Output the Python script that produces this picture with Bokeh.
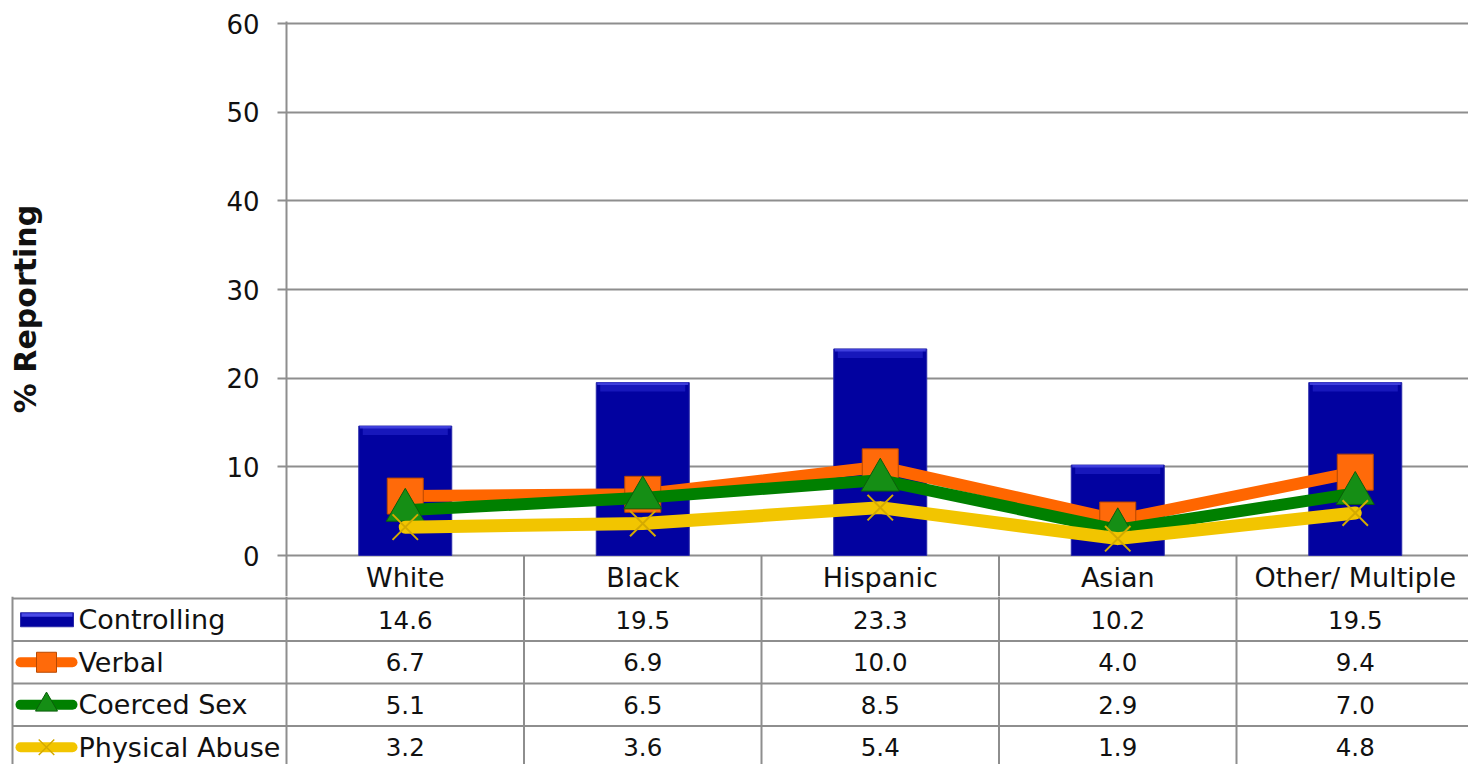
import numpy as np
from bokeh.plotting import figure
from bokeh.models import Range1d, FixedTicker
from bokeh.layouts import column
from bokeh.embed import file_html
from bokeh.resources import INLINE
from bokeh.core.properties import value

# ---------------- data ----------------
categories = ["White", "Black", "Hispanic", "Asian", "Other/ Multiple"]
controlling = [14.6, 19.5, 23.3, 10.2, 19.5]
verbal = [6.7, 6.9, 10.0, 4.0, 9.4]
coerced = [5.1, 6.5, 8.5, 2.9, 7.0]
physical = [3.2, 3.6, 5.4, 1.9, 4.8]
series_names = ["Controlling", "Verbal", "Coerced Sex", "Physical Abuse"]
y_ticks = [0, 10, 20, 30, 40, 50, 60]

# ---------------- layout constants (page pixels) ----------------
COL_W = 237.5          # width of one category column
PLOT_LEFT = 286        # page x of value axis
ZERO_Y = 555           # page y of value 0
PXU = 532.0 / 60.0     # pixels per value unit
ROW_H = 42.5           # table row height
TABLE_TOP = 598        # page y where legend rows begin
SPLIT = 596            # page y where the two figures meet
PAGE_RIGHT = 1468
PAGE_BOTTOM = 764
FRAME_TOP = 21

GRAY = "#8e8e8e"
TXT = "#111111"
FONT = "DejaVu Sans"
WORD_SIZE = "27px"
NUM_SIZE = "24.5px"
TICK_SIZE = "26px"

n = len(categories)
xc = [i + 0.5 for i in range(n)]
bounds = list(range(1, n))

# ---------------- top figure: chart + header row ----------------
y_bottom = -(SPLIT - ZERO_Y) / PXU
y_top = (ZERO_Y - FRAME_TOP) / PXU
x_end = (PAGE_RIGHT - PLOT_LEFT) / COL_W

top = figure(width=PAGE_RIGHT, height=SPLIT,
             x_range=Range1d(0, x_end), y_range=Range1d(y_bottom, y_top),
             x_axis_location=None, output_backend="svg", toolbar_location=None,
             min_border_left=PLOT_LEFT, min_border_right=0,
             min_border_top=FRAME_TOP, min_border_bottom=0)
top.frame_align = False
top.outline_line_color = None
top.xgrid.visible = False

ticker = FixedTicker(ticks=y_ticks)
top.yaxis.ticker = ticker
top.ygrid.ticker = ticker
top.ygrid.grid_line_color = GRAY
top.ygrid.grid_line_width = 2
top.yaxis.axis_line_color = GRAY
top.yaxis.axis_line_width = 2
top.yaxis.major_tick_line_color = GRAY
top.yaxis.major_tick_line_width = 2
top.yaxis.major_tick_in = 0
top.yaxis.major_tick_out = 9
top.yaxis.minor_tick_line_color = None
top.yaxis.major_label_standoff = 18
top.yaxis.major_label_text_font = FONT
top.yaxis.major_label_text_font_size = TICK_SIZE
top.yaxis.major_label_text_color = TXT
top.yaxis.axis_label = "% Reporting"
top.yaxis.axis_label_text_font = FONT
top.yaxis.axis_label_text_font_style = "bold"
top.yaxis.axis_label_text_font_size = "30px"
top.yaxis.axis_label_text_color = TXT
top.yaxis.axis_label_standoff = 180

# bars
bw = 93 / COL_W
top.vbar(x=xc, top=controlling, bottom=0, width=bw,
         fill_color="#0202A0", line_color="#2828a8", line_width=1)
top.vbar(x=xc, top=[c - 1.2 / PXU for c in controlling],
         bottom=[c - 9 / PXU for c in controlling], width=bw - 8 / COL_W,
         fill_color="#2a2ad2", fill_alpha=0.55, line_color=None)
top.vbar(x=xc, top=controlling, bottom=[c - 2.5 / PXU for c in controlling],
         width=bw - 2 / COL_W, fill_color="#4a4ae6", fill_alpha=0.8, line_color=None)

# lines + markers
top.line(xc, verbal, line_width=12, line_color="#FF6600", line_join="round", line_cap="round")
top.scatter(xc, verbal, marker="square", size=36, fill_color="#FF6A0A",
            line_color="#B94800", line_width=1)
top.line(xc, coerced, line_width=12, line_color="#008000", line_join="round", line_cap="round")
top.scatter(xc, coerced, marker="triangle", size=38, fill_color="#158E15",
            line_color="#0B5E0B", line_width=1)
top.line(xc, physical, line_width=13, line_color="#F2C500", line_join="round", line_cap="round")
top.scatter(xc, physical, marker="x", size=36, line_color="#D4AA00", line_width=2)

# header row (category names) with column separators
top.segment(x0=bounds, y0=[0] * len(bounds), x1=bounds, y1=[y_bottom] * len(bounds),
            line_color=GRAY, line_width=2)
top.text(x=xc, y=[-(577 - ZERO_Y) / PXU] * n, text=categories,
         text_align="center", text_baseline="middle",
         text_font=value(FONT), text_font_size=WORD_SIZE, text_color=TXT)

# ---------------- bottom figure: data table ----------------
def px(xp):
    return (xp - PLOT_LEFT) / COL_W

left_border = px(12)
bx_start = px(0)
by_top = (SPLIT - TABLE_TOP) / ROW_H
by_bottom = (PAGE_BOTTOM - TABLE_TOP) / ROW_H

bot = figure(width=PAGE_RIGHT, height=PAGE_BOTTOM - SPLIT,
             x_range=Range1d(bx_start, x_end), y_range=Range1d(by_bottom, by_top),
             x_axis_location=None, y_axis_location=None,
             output_backend="svg", toolbar_location=None, min_border=0)
bot.frame_align = False
bot.outline_line_color = None
bot.xgrid.visible = False
bot.ygrid.visible = False

rows = list(range(len(series_names)))
bot.segment(x0=[left_border] * len(rows), y0=rows, x1=[x_end] * len(rows), y1=rows,
            line_color=GRAY, line_width=2)
vx = [left_border, 0] + bounds
bot.segment(x0=vx, y0=[by_top] * len(vx), x1=vx, y1=[by_bottom] * len(vx),
            line_color=GRAY, line_width=2)

rc = [r + 0.5 for r in rows]
# legend keys
bot.quad(left=px(20), right=px(73), top=rc[0] - 7 / ROW_H, bottom=rc[0] + 7 / ROW_H,
         fill_color="#0202A0", line_color="#2828a8")
bot.quad(left=px(21), right=px(72), top=rc[0] - 6.5 / ROW_H, bottom=rc[0] - 3 / ROW_H,
         fill_color="#4a4ae6", line_color=None)
key_colors = ["#FF6600", "#008000", "#F2C500"]
for r, c in zip(rc[1:], key_colors):
    bot.segment(x0=px(20), y0=r, x1=px(72), y1=r, line_color=c, line_width=10, line_cap="round")
bot.scatter(px(46), rc[1], marker="square", size=20, fill_color="#FF6A0A", line_color="#B94800")
bot.scatter(px(46), rc[2], marker="triangle", size=22, fill_color="#158E15", line_color="#0B5E0B")
bot.scatter(px(46), rc[3], marker="x", size=22, line_color="#D4AA00", line_width=1.5)

bot.text(x=[px(78)] * len(rows), y=rc, text=series_names, text_align="left",
         text_baseline="middle", text_font=value(FONT), text_font_size=WORD_SIZE,
         text_color=TXT)

table = [controlling, verbal, coerced, physical]
tx, ty, tt = [], [], []
for r, vals in zip(rc, table):
    for x, v in zip(xc, vals):
        tx.append(x); ty.append(r); tt.append(f"{v:.1f}")
bot.text(x=tx, y=ty, text=tt, text_align="center", text_baseline="middle",
         text_font=value(FONT), text_font_size=NUM_SIZE, text_color=TXT)

layout = column(top, bot, spacing=0)
open("out.html", "w").write(file_html(layout, INLINE))
